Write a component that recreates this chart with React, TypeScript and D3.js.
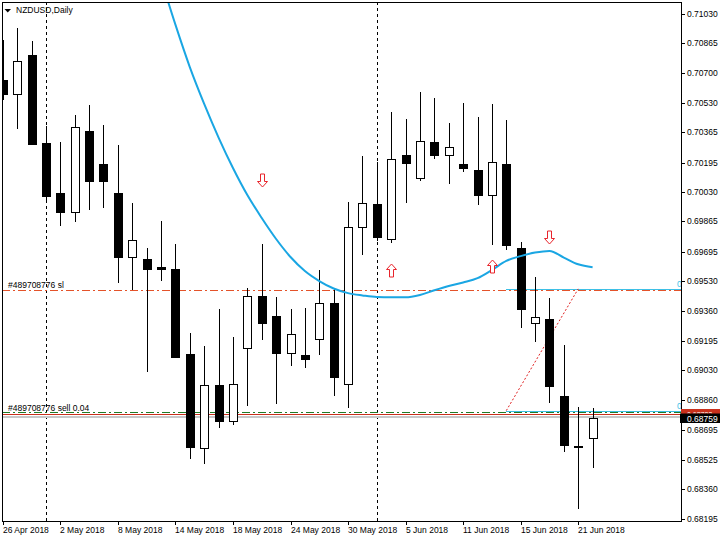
import React from "react";
import * as d3 from "d3";

// ---- data ----
const dates = [
  "2018-04-26","2018-04-27","2018-04-30","2018-05-01","2018-05-02","2018-05-03","2018-05-04",
  "2018-05-07","2018-05-08","2018-05-09","2018-05-10","2018-05-11","2018-05-14","2018-05-15",
  "2018-05-16","2018-05-17","2018-05-18","2018-05-21","2018-05-22","2018-05-23","2018-05-24",
  "2018-05-25","2018-05-28","2018-05-29","2018-05-30","2018-05-31","2018-06-01","2018-06-04",
  "2018-06-05","2018-06-06","2018-06-07","2018-06-08","2018-06-11","2018-06-12","2018-06-13",
  "2018-06-14","2018-06-15","2018-06-18","2018-06-19","2018-06-20","2018-06-21","2018-06-22",
];
const open = [
  0.70659,0.70581,0.70800,0.70305,0.70025,0.69918,0.70373,0.70187,0.70025,0.69665,0.69654,
  0.69609,0.69598,0.69120,0.68592,0.68946,0.68744,0.69154,0.69446,0.69334,0.69126,0.69115,
  0.69205,0.69407,0.68952,0.69834,0.69963,0.69766,0.70238,0.70109,0.70311,0.70238,0.70187,
  0.70154,0.70013,0.70187,0.69716,0.69294,0.69317,0.68884,0.68606,0.68648,
];
const high = [
  0.70884,0.70950,0.70880,0.70401,0.70311,0.70463,0.70519,0.70407,0.70294,0.69968,0.69716,
  0.69867,0.69738,0.69238,0.69165,0.69373,0.69216,0.69491,0.69738,0.69440,0.69373,0.69379,
  0.69592,0.69485,0.69974,0.70232,0.70199,0.70480,0.70440,0.70592,0.70558,0.70418,0.70530,
  0.70451,0.70525,0.70435,0.69749,0.69553,0.69435,0.69171,0.68823,0.68817,
];
const low = [
  0.70547,0.70382,0.70298,0.69985,0.69839,0.69862,0.69929,0.69940,0.69519,0.69480,0.69019,
  0.69530,0.69098,0.68530,0.68502,0.68705,0.68721,0.68828,0.69199,0.68839,0.69053,0.69042,
  0.69115,0.68884,0.68817,0.69676,0.69755,0.69744,0.69968,0.70092,0.70216,0.70075,0.70143,
  0.69957,0.69733,0.69704,0.69266,0.69188,0.68845,0.68570,0.68250,0.68480,
];
const close = [
  0.70581,0.70768,0.70301,0.70009,0.69918,0.70395,0.70092,0.70092,0.69665,0.69761,0.69598,
  0.69595,0.69103,0.68598,0.68946,0.68744,0.68952,0.69446,0.69294,0.69126,0.69233,0.69092,
  0.69407,0.68991,0.69834,0.69968,0.69777,0.70216,0.70193,0.70317,0.70238,0.70283,0.70165,
  0.70013,0.70199,0.69733,0.69373,0.69328,0.68940,0.68609,0.68598,0.68759,
];
// moving average (null = not drawn)
const maValues: (number | null)[] = [
  null,null,null,null,null,null,null,null,null,null,null,
  0.71227,0.70970,0.70732,0.70525,0.70336,0.70165,0.70013,0.69884,0.69766,0.69665,0.69586,
  0.69530,0.69488,0.69462,0.69449,0.69440,0.69439,0.69439,0.69452,0.69478,0.69502,0.69522,
  0.69546,0.69592,0.69643,0.69670,0.69690,0.69699,0.69662,0.69624,0.69607,
];
const arrowDates = ["2018-05-22", "2018-06-04", "2018-06-13", "2018-06-19"];
const arrowPrices = [0.70098, 0.69592, 0.69615, 0.69777];
const arrowDirs = ["down", "up", "up", "down"];

const priceTicks = [
  "0.71030","0.70865","0.70700","0.70530","0.70365","0.70195","0.70030","0.69865","0.69695",
  "0.69530","0.69360","0.69195","0.69030","0.68860","0.68695","0.68525","0.68360","0.68195",
];
const dateTicks = [
  "2018-04-26","2018-05-02","2018-05-08","2018-05-14","2018-05-18","2018-05-24",
  "2018-05-30","2018-06-05","2018-06-11","2018-06-15","2018-06-21",
];
const separatorDates = ["2018-05-01", "2018-06-01"];

const title = "NZDUSD,Daily";
const slPrice = 0.6948;
const slLabel = "#489708776 sl";
const sellPrice = 0.68795;
const sellLabel = "#489708776 sell 0.04";
const bidPrice = 0.68759;
const askPrice = 0.68783;
const rayStartDate = "2018-06-14";
const rayPrices = [0.69486, 0.68802];
const tradeFrom = { date: "2018-06-14", price: 0.68802 };
const tradeTo = { date: "2018-06-21", price: 0.69486 };

// ---- layout ----
const W = 720;
const H = 540;
const L = 2;
const T = 2;
const R = 681;
const B = 521;
const FONT = "'Liberation Sans', Arial, sans-serif";
const FS = 8.5;

export default function App() {
  const x = d3.scalePoint<string>().domain(dates).range([2.8, 592.6]);
  const y = d3.scaleLinear().domain([0.68195, 0.7103]).range([518.7, 14]);
  const px = (d: string) => Math.round(x(d) as number);
  const py = (p: number) => Math.round(y(p));
  const parse = d3.timeParse("%Y-%m-%d");
  const fmt = d3.timeFormat("%-d %b %Y");

  const maLine = d3
    .line<number | null>()
    .defined((d) => d !== null)
    .x((_, i) => x(dates[i]) as number)
    .y((d) => y(d as number))
    .curve(d3.curveMonotoneX);

  const dashDot = "8,3,2,3";

  const arrowPath = (dir: string) =>
    dir === "up"
      ? "M0,-6.5 L5,-1 L2,-1 L2,6.5 L-2,6.5 L-2,-1 L-5,-1 Z"
      : "M0,6.5 L5,1 L2,1 L2,-6.5 L-2,-6.5 L-2,1 L-5,1 Z";

  return (
    <svg
      width={W}
      height={H}
      style={{ position: "absolute", left: 0, top: 0, background: "#fff" }}
      fontFamily={FONT}
      fontSize={FS}
    >
      <defs>
        <clipPath id="plot">
          <rect x={L} y={T} width={R - L} height={B - T} />
        </clipPath>
        <clipPath id="askclip">
          <rect x={R} y={0} width={W - R} height={py(bidPrice) - 4.5} />
        </clipPath>
      </defs>
      <rect x={0} y={0} width={W} height={H} fill="#fff" />

      <g clipPath="url(#plot)">
        {/* period separators */}
        {separatorDates.map((d) => (
          <line
            key={d}
            x1={px(d) + 0.5}
            x2={px(d) + 0.5}
            y1={T}
            y2={B}
            stroke="#000"
            strokeDasharray="3,3"
          />
        ))}

        {/* bid / ask lines */}
        <line x1={L} x2={R} y1={py(bidPrice) - 1} y2={py(bidPrice) - 1} stroke="#c8c8c8" strokeWidth={2} />
        <line x1={L} x2={R} y1={py(askPrice) + 0.5} y2={py(askPrice) + 0.5} stroke="#c9301c" strokeWidth={1} />

        {/* order lines */}
        <line x1={L} x2={R} y1={py(slPrice) + 0.5} y2={py(slPrice) + 0.5} stroke="#e4532a" strokeDasharray={dashDot} />
        <line x1={L} x2={R} y1={py(sellPrice) + 0.5} y2={py(sellPrice) + 0.5} stroke="#1f7a25" strokeDasharray={dashDot} />

        {/* rays */}
        {rayPrices.map((p, i) => (
          <line
            key={i}
            x1={px(rayStartDate)}
            x2={R}
            y1={py(p) + 0.5}
            y2={py(p) + 0.5}
            stroke="#3ec0e6"
          />
        ))}

        {/* trade line */}
        <line
          x1={x(tradeFrom.date) as number}
          y1={y(tradeFrom.price)}
          x2={x(tradeTo.date) as number}
          y2={y(tradeTo.price)}
          stroke="#e02020"
          strokeDasharray="2,2"
        />

        {/* candles */}
        {dates.map((d, i) => {
          const c = px(d);
          const up = close[i] > open[i];
          const top = py(Math.max(open[i], close[i]));
          const bot = py(Math.min(open[i], close[i]));
          return (
            <g key={d}>
              <line x1={c + 0.5} x2={c + 0.5} y1={py(high[i])} y2={py(low[i])} stroke="#000" />
              <rect
                x={c - 4 + 0.5}
                y={top + 0.5}
                width={8}
                height={Math.max(bot - top, 1)}
                fill={up ? "#fff" : "#000"}
                stroke="#000"
              />
            </g>
          );
        })}

        {/* moving average */}
        <path d={maLine(maValues) || ""} fill="none" stroke="#1aa6e3" strokeWidth={2} />

        {/* arrows */}
        {arrowDates.map((d, i) => (
          <path
            key={d}
            transform={`translate(${px(d) + 0.5},${py(arrowPrices[i]) + 0.5})`}
            d={arrowPath(arrowDirs[i])}
            fill="#fff"
            stroke="#e8242b"
          />
        ))}

        {/* labels */}
        <text x={8} y={py(slPrice) - 2} fill="#000">{slLabel}</text>
        <text x={8} y={py(sellPrice) - 1.5} fill="#000">{sellLabel}</text>
        {rayPrices.map((p, i) => (
          <text key={i} x={677} y={py(p) - 2} fill="#3ec0e6">0</text>
        ))}
      </g>

      {/* title */}
      <path d="M4.5,9 L11,9 L7.75,12.5 Z" fill="#000" />
      <text x={16} y={13} fill="#000">{title}</text>

      {/* frame */}
      <line x1={L + 0.5} x2={L + 0.5} y1={T} y2={B + 1} stroke="#000" />
      <line x1={L} x2={R} y1={T + 0.5} y2={T + 0.5} stroke="#000" />
      <line x1={R + 0.5} x2={R + 0.5} y1={T} y2={B + 1} stroke="#000" />
      <line x1={L} x2={R + 1} y1={B + 0.5} y2={B + 0.5} stroke="#000" />

      {/* price axis */}
      {priceTicks.map((t) => {
        const yy = py(+t);
        return (
          <g key={t}>
            <line x1={R} x2={R + 4} y1={yy + 0.5} y2={yy + 0.5} stroke="#000" />
            <text x={687} y={yy + 3} fill="#000">{t}</text>
          </g>
        );
      })}

      {/* ask label (behind, mostly covered) and bid label */}
      <rect x={R} y={py(askPrice) - 5} width={W - R} height={9} fill="#c9301c" />
      <g clipPath="url(#askclip)">
        <text x={687} y={py(askPrice) + 3} fill="#fff" fontSize={7}>{askPrice.toFixed(5)}</text>
      </g>
      <rect x={R - 1} y={py(bidPrice) - 4.5} width={W - R + 1} height={9.5} fill="#000" />
      <text x={687} y={py(bidPrice) + 3.5} fill="#fff">{bidPrice.toFixed(5)}</text>

      {/* date axis */}
      {dateTicks.map((d) => {
        const xx = px(d);
        return (
          <g key={d}>
            <line x1={xx + 0.5} x2={xx + 0.5} y1={B} y2={B + 4} stroke="#000" />
            <text x={xx} y={532.5} fill="#000">{fmt(parse(d) as Date)}</text>
          </g>
        );
      })}
    </svg>
  );
}
